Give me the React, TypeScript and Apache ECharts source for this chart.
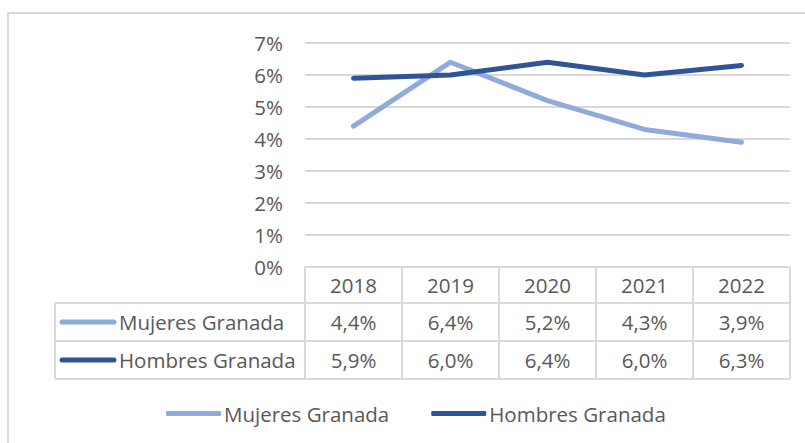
import React, { useEffect, useRef } from "react";
import * as echarts from "echarts";

const categories = ["2018", "2019", "2020", "2021", "2022"];
const mujeres = [4.4, 6.4, 5.2, 4.3, 3.9];
const hombres = [5.9, 6.0, 6.4, 6.0, 6.3];
const seriesNames = ["Mujeres Granada", "Hombres Granada"];
const colors = ["#8FAADC", "#2F5597"];
const yMax = 7;
const yInterval = 1;

const FONT = "Open Sans";
const TEXT = "#595959";
const LINE = "#D9D9D9";
const FS = 20.5;

const GRID_LEFT = 305;
const GRID_RIGHT = 790;
const GRID_TOP = 43;
const AXIS_Y = 267;
const ROW_Y = [267, 303, 341, 379];
const TABLE_LEFT = 55;

const fmt = (v: number) => v.toFixed(1).replace(".", ",") + "%";

export default function App() {
  const ref = useRef<HTMLDivElement>(null);
  useEffect(() => {
    if (!ref.current) return;
    const chart = echarts.init(ref.current, null, { renderer: "svg" });
    const colW = (GRID_RIGHT - GRID_LEFT) / categories.length;
    const rows = [mujeres, hombres];
    const graphics: any[] = [
      {
        type: "rect",
        shape: { x: 8, y: 13, width: 900, height: 600 },
        style: { fill: "none", stroke: LINE, lineWidth: 2 },
        silent: true,
      },
    ];
    ROW_Y.forEach((y, i) => {
      graphics.push({
        type: "line",
        shape: { x1: i === 0 ? GRID_LEFT : TABLE_LEFT, y1: y, x2: GRID_RIGHT, y2: y },
        style: { stroke: LINE, lineWidth: 2 },
        silent: true,
      });
    });
    graphics.push({
      type: "line",
      shape: { x1: TABLE_LEFT, y1: ROW_Y[1], x2: TABLE_LEFT, y2: ROW_Y[3] },
      style: { stroke: LINE, lineWidth: 2 },
      silent: true,
    });
    for (let i = 0; i <= categories.length; i++) {
      const x = GRID_LEFT + i * colW;
      graphics.push({
        type: "line",
        shape: { x1: x, y1: ROW_Y[0], x2: x, y2: ROW_Y[3] },
        style: { stroke: LINE, lineWidth: 2 },
        silent: true,
      });
    }
    seriesNames.forEach((name, i) => {
      const cy = (ROW_Y[i + 1] + ROW_Y[i + 2]) / 2;
      graphics.push({
        type: "line",
        shape: { x1: 62, y1: cy, x2: 114, y2: cy },
        style: { stroke: colors[i], lineWidth: 5, lineCap: "round" },
        silent: true,
      });
      graphics.push({
        type: "text",
        x: 119,
        y: cy,
        style: {
          text: name,
          fill: TEXT,
          font: `${FS}px "${FONT}"`,
          verticalAlign: "middle",
          align: "left",
        },
        silent: true,
      });
    });

    chart.setOption({
      animation: false,
      textStyle: { fontFamily: FONT },
      grid: {
        left: GRID_LEFT,
        right: 805 - GRID_RIGHT,
        top: GRID_TOP,
        bottom: 443 - AXIS_Y,
        containLabel: false,
      },
      xAxis: {
        type: "category",
        data: categories,
        boundaryGap: true,
        axisTick: { show: false },
        axisLine: { show: false },
        splitLine: { show: false },
        axisLabel: {
          interval: 0,
          margin: 0,
          formatter: (value: string, idx: number) =>
            `{y|${value}}\n{v|${fmt(rows[0][idx])}}\n{v|${fmt(rows[1][idx])}}`,
          rich: {
            y: { fontSize: FS, lineHeight: 36, color: TEXT, fontFamily: FONT },
            v: { fontSize: FS, lineHeight: 38, color: TEXT, fontFamily: FONT },
          },
        },
      },
      yAxis: {
        type: "value",
        min: 0,
        max: yMax,
        interval: yInterval,
        axisLine: { show: false },
        axisTick: { show: false },
        axisLabel: {
          formatter: (v: number) => `${v}%`,
          color: TEXT,
          fontSize: FS,
          fontFamily: FONT,
          margin: 22,
        },
        splitLine: { lineStyle: { color: LINE, width: 2 } },
      },
      legend: {
        data: seriesNames,
        icon: "roundRect",
        itemWidth: 55,
        itemHeight: 5,
        itemGap: 42,
        left: 166,
        top: 403,
        padding: 0,
        textStyle: { fontSize: FS, color: TEXT, fontFamily: FONT, padding: [0, 0, 0, -2] },
      },
      series: [
        {
          name: seriesNames[0],
          type: "line",
          data: mujeres,
          symbol: "none",
          color: colors[0],
          lineStyle: { width: 5, color: colors[0], cap: "round", join: "round" },
        },
        {
          name: seriesNames[1],
          type: "line",
          data: hombres,
          symbol: "none",
          color: colors[1],
          lineStyle: { width: 5, color: colors[1], cap: "round", join: "round" },
        },
      ],
      graphic: graphics,
    });
    return () => chart.dispose();
  }, []);
  return (
    <div
      ref={ref}
      style={{ position: "absolute", left: 0, top: 0, width: 805, height: 443 }}
    />
  );
}
